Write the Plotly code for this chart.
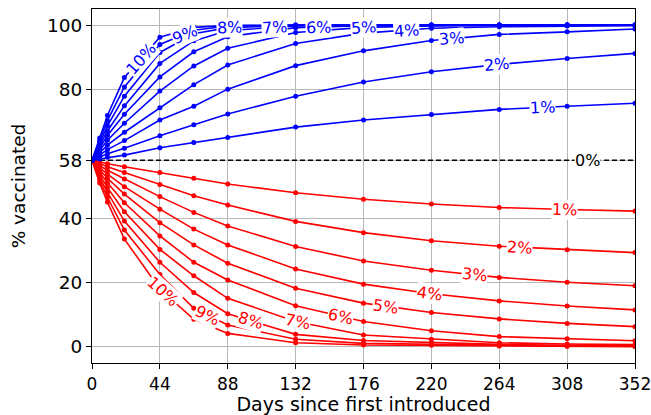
import numpy as np
import plotly.graph_objects as go

# ---------------- data ----------------
days = [0, 5, 10, 21, 44, 66, 88, 132, 176, 220, 264, 308, 352]
rate_labels = ["1%", "2%", "3%", "4%", "5%", "6%", "7%", "8%", "9%", "10%"]
baseline = 58

# increasing (blue) curves
up_1 = [58, 58.4, 58.9, 59.6, 61.9, 63.5, 65.1, 68.3, 70.5, 72.2, 73.8, 74.8, 75.7]
up_2 = [58, 59.0, 60.0, 61.7, 65.6, 69.0, 72.4, 77.9, 82.3, 85.5, 87.8, 89.6, 91.2]
up_3 = [58, 59.6, 61.3, 64.1, 70.5, 74.8, 80.1, 87.4, 92.0, 95.2, 97.1, 97.9, 98.8]
up_4 = [58, 60.3, 62.7, 66.7, 74.3, 81.5, 87.6, 94.3, 97.5, 99.0, 99.5, 99.7, 99.8]
up_5 = [58, 61.1, 64.2, 69.5, 79.5, 87.3, 92.8, 97.7, 99.3, 99.7, 99.9, 100, 100]
up_6 = [58, 61.9, 65.7, 72.3, 83.9, 91.7, 96.4, 99.2, 99.8, 99.9, 100, 100, 100]
up_7 = [58, 62.6, 67.1, 74.9, 88.1, 95.1, 98.3, 99.7, 99.9, 100, 100, 100, 100]
up_8 = [58, 63.4, 68.7, 77.9, 91.5, 97.3, 99.2, 99.9, 100, 100, 100, 100, 100]
up_9 = [58, 64.2, 70.3, 80.8, 94.0, 98.4, 99.7, 100, 100, 100, 100, 100, 100]
up_10 = [58, 64.9, 71.9, 83.7, 96.2, 99.3, 99.9, 100, 100, 100, 100, 100, 100]

# decreasing (red) curves
down_1 = [58, 57.4, 56.9, 56.0, 54.2, 52.4, 50.6, 47.9, 45.9, 44.4, 43.3, 42.7, 42.2]
down_2 = [58, 56.9, 56.0, 54.2, 50.5, 47.0, 44.1, 39.0, 35.5, 33.0, 31.3, 30.2, 29.3]
down_3 = [58, 56.3, 54.9, 52.2, 46.7, 41.8, 37.6, 31.2, 26.7, 23.8, 21.6, 20.1, 19.0]
down_4 = [58, 55.6, 53.7, 49.8, 42.8, 36.6, 31.7, 24.2, 19.5, 16.5, 14.3, 12.7, 11.5]
down_5 = [58, 55.0, 52.4, 47.5, 38.6, 31.7, 26.0, 18.2, 13.6, 10.7, 8.7, 7.3, 6.3]
down_6 = [58, 54.2, 51.0, 44.8, 34.5, 26.3, 20.8, 12.8, 7.9, 5.0, 3.2, 2.5, 1.9]
down_7 = [58, 53.4, 49.5, 42.0, 30.3, 22.1, 15.1, 7.9, 3.7, 2.4, 1.3, 0.9, 0.7]
down_8 = [58, 52.5, 48.0, 39.1, 26.3, 16.9, 10.3, 3.9, 2.0, 1.3, 0.8, 0.5, 0.4]
down_9 = [58, 51.7, 46.5, 36.3, 22.5, 12.0, 6.8, 2.4, 1.1, 0.8, 0.5, 0.3, 0.2]
down_10 = [58, 50.9, 45.0, 33.5, 18.0, 8.6, 4.2, 1.3, 0.6, 0.5, 0.3, 0.2, 0.1]

x_ticks = [0, 44, 88, 132, 176, 220, 264, 308, 352]
y_ticks = [0, 20, 40, 58, 80, 100]

# where the inline labels sit along each curve (days)
up_label_days = [292, 262, 233, 204, 176, 147, 118, 89, 60, 32]
down_label_days = [306, 277, 248, 219, 190, 161, 133, 103, 75, 46]
baseline_label_day = 321

up_series = [up_1, up_2, up_3, up_4, up_5, up_6, up_7, up_8, up_9, up_10]
down_series = [down_1, down_2, down_3, down_4, down_5, down_6, down_7, down_8, down_9, down_10]

# ---------------- figure ----------------
W, H = 651, 415
ML, MR, MT, MB = 92, 16, 9, 52
XR = [0, 352]
YR = [-5, 105]
px_per_x = (W - ML - MR) / (XR[1] - XR[0])
px_per_y = (H - MT - MB) / (YR[1] - YR[0])

FONT = "DejaVu Sans"
fig = go.Figure()

fig.add_trace(go.Scatter(x=[XR[0], XR[1]], y=[baseline, baseline], mode="lines",
                         line=dict(color="black", width=1.4, dash="5px,3px"),
                         hoverinfo="skip", showlegend=False))

for series, color in ((down_series, "#ff0000"), (up_series, "#0000ff")):
    for vals in series:
        fig.add_trace(go.Scatter(x=days, y=vals, mode="lines+markers",
                                 line=dict(color=color, width=1.6),
                                 marker=dict(color=color, size=5),
                                 hoverinfo="skip", showlegend=False))


def add_label(xd, vals, text, color):
    yv = float(np.interp(xd, days, vals))
    i = int(np.searchsorted(days, xd)) - 1
    i = max(0, min(i, len(days) - 2))
    dx = (days[i + 1] - days[i]) * px_per_x
    dy = (vals[i + 1] - vals[i]) * px_per_y
    ang = -np.degrees(np.arctan2(dy, dx))
    fig.add_annotation(x=xd, y=yv, text=text, showarrow=False, textangle=ang,
                       font=dict(family=FONT, size=16, color=color),
                       bgcolor="white", borderpad=0, xanchor="center", yanchor="middle")


for xd, vals, t in zip(up_label_days, up_series, rate_labels):
    add_label(xd, vals, t, "#0000ff")
for xd, vals, t in zip(down_label_days, down_series, rate_labels):
    add_label(xd, vals, t, "#ff0000")
add_label(baseline_label_day, [baseline] * len(days), "0%", "black")

axis_common = dict(showline=True, linecolor="black", linewidth=1.2, mirror=True,
                   ticks="outside", ticklen=5, tickcolor="black", tickwidth=1.2,
                   showgrid=True, gridcolor="#b8b8b8", gridwidth=1, zeroline=False,
                   automargin=False, ticklabeloverflow="allow")

fig.update_xaxes(range=XR, tickvals=x_ticks, ticktext=[str(v) for v in x_ticks],
                 tickfont=dict(family=FONT, size=17, color="black"),
                 title=dict(text="Days since first introduced", font=dict(family=FONT, size=19, color="black"),
                            standoff=5), **axis_common)
fig.update_yaxes(range=YR, tickvals=y_ticks, ticktext=[str(v) for v in y_ticks],
                 tickfont=dict(family=FONT, size=18.5, color="black"),
                 title=dict(text="% vaccinated", font=dict(family=FONT, size=18.5, color="black"),
                            standoff=16), **axis_common)

fig.update_layout(width=W, height=H, margin=dict(l=ML, r=MR, t=MT, b=MB, autoexpand=False),
                  paper_bgcolor="white", plot_bgcolor="white", showlegend=False)

fig.write_html("out.html", config={"displayModeBar": False},
               post_script="document.body.style.margin='0';document.body.style.overflow='hidden';")
